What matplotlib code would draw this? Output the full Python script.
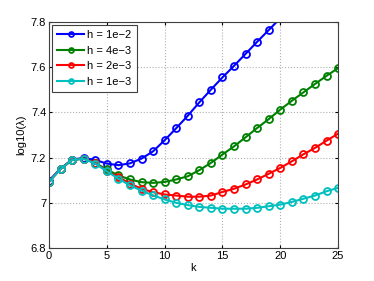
import numpy as np
import matplotlib.pyplot as plt

k = np.arange(26)

# log10(lambda) for each step size h
h_1e2 = [7.099, 7.152, 7.192, 7.199, 7.190, 7.174, 7.167, 7.175, 7.196, 7.228,
         7.277, 7.330, 7.385, 7.444, 7.500, 7.554, 7.605, 7.658, 7.711, 7.763,
         7.815, 7.868, 7.920, 7.973, 8.025, 8.078]
h_4e3 = [7.095, 7.150, 7.190, 7.196, 7.177, 7.148, 7.122, 7.104, 7.092, 7.089,
         7.093, 7.104, 7.118, 7.145, 7.177, 7.214, 7.250, 7.290, 7.331, 7.370,
         7.412, 7.451, 7.488, 7.525, 7.561, 7.595]
h_2e3 = [7.094, 7.150, 7.190, 7.196, 7.177, 7.140, 7.115, 7.086, 7.063, 7.048,
         7.038, 7.033, 7.028, 7.028, 7.033, 7.049, 7.063, 7.082, 7.104, 7.129,
         7.155, 7.184, 7.215, 7.243, 7.275, 7.306]
h_1e3 = [7.093, 7.150, 7.190, 7.195, 7.174, 7.140, 7.108, 7.078, 7.055, 7.034,
         7.016, 7.001, 6.991, 6.983, 6.979, 6.975, 6.975, 6.975, 6.979, 6.986,
         6.993, 7.005, 7.019, 7.033, 7.052, 7.067]

series = [(h_1e2, 'h = 1e\u22122', (0, 0, 1)),
          (h_4e3, 'h = 4e\u22123', (0, 0.5, 0)),
          (h_2e3, 'h = 2e\u22123', (1, 0, 0)),
          (h_1e3, 'h = 1e\u22123', (0, 0.75, 0.75))]

plt.rcParams['font.family'] = ['Liberation Sans', 'DejaVu Sans']
plt.rcParams['font.size'] = 8

fig = plt.figure(figsize=(3.74, 2.81), dpi=100)
ax = fig.add_axes([0.131, 0.116, 0.773, 0.807])

for vals, lab, col in series:
    ax.plot(k, vals, '-o', color=col, lw=1.5, ms=5, mfc='none', mew=1.3,
            label=lab)

ax.set_xlim(0, 25)
ax.set_ylim(6.8, 7.8)
ax.set_xticks([0, 5, 10, 15, 20, 25])
ax.set_yticks([6.8, 7.0, 7.2, 7.4, 7.6, 7.8])
ax.set_yticklabels(['6.8', '7', '7.2', '7.4', '7.6', '7.8'])
ax.grid(True, ls=':', color='#b0b0b0', lw=0.8)
ax.tick_params(direction='in', length=2.5, top=True, right=True, pad=2)
for s in ax.spines.values():
    s.set_color('#404040')
    s.set_linewidth(0.8)
ax.set_xlabel('k', labelpad=1)
ax.set_ylabel('log10(\u03bb)', labelpad=3)

leg = ax.legend(loc='upper left', fancybox=False, edgecolor='#404040',
                borderaxespad=0.3, handlelength=2.4, labelspacing=0.5,
                borderpad=0.45, handletextpad=0.3, markerscale=0.7,
                framealpha=1, prop={'size': 8})
leg.get_frame().set_linewidth(0.8)

fig.savefig('out.png', dpi=100)
